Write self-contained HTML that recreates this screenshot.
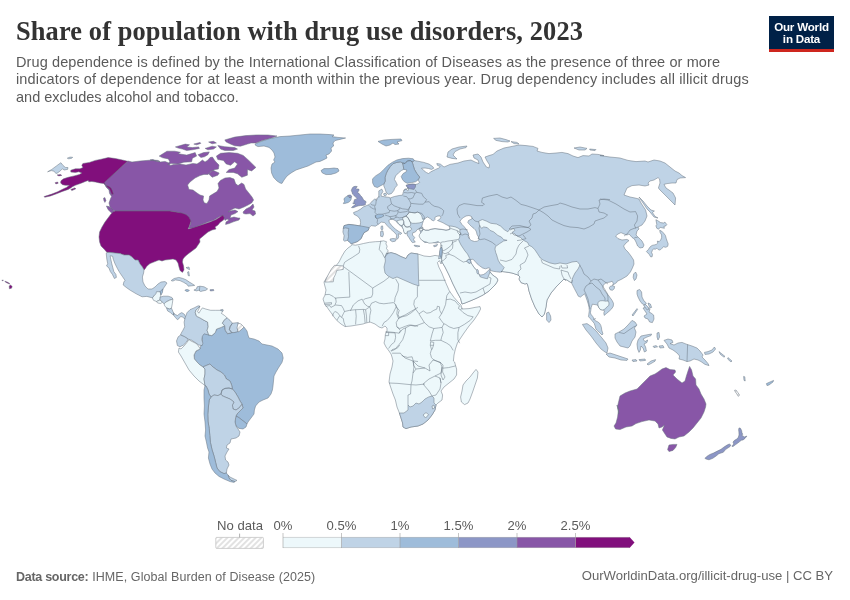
<!DOCTYPE html>
<html lang="en">
<head>
<meta charset="utf-8">
<title>Share of population with drug use disorders, 2023</title>
<style>
html,body{margin:0;padding:0;background:#fff;}
body{width:850px;height:600px;position:relative;overflow:hidden;font-family:"Liberation Sans",sans-serif;}
#title{position:absolute;left:16px;top:16.2px;margin:0;font-family:"Liberation Serif",serif;font-weight:bold;font-size:26.4px;line-height:30px;color:#333333;white-space:nowrap;letter-spacing:0.12px;}
#subtitle{position:absolute;left:16px;top:53.9px;margin:0;font-size:14.5px;line-height:17.4px;color:#5b5b5b;white-space:nowrap;}
#s1{letter-spacing:0.11px;}#s2{letter-spacing:0.15px;}#s3{letter-spacing:0.01px;}
#logo{position:absolute;left:769px;top:16px;width:65px;height:35.8px;background:linear-gradient(#002147 0,#002147 33.2px,#ce261e 33.2px,#ce261e 100%);color:#fff;font-weight:bold;font-size:11.6px;line-height:12px;text-align:center;letter-spacing:-0.2px;}
#logo span{display:block;}
#logo span.a{margin-top:4.6px;}
#footer-l{position:absolute;left:16px;top:568.5px;letter-spacing:0.075px;font-size:12.5px;line-height:16px;color:#666;white-space:nowrap;}
#footer-l b{color:#666;letter-spacing:-0.28px;margin-right:0.3px;}
#footer-r{position:absolute;right:17px;top:568.4px;font-size:13.1px;line-height:16px;color:#666;white-space:nowrap;text-align:right;}
#map{position:absolute;left:0;top:0;width:850px;height:600px;}
.lg{font-family:"Liberation Sans",sans-serif;font-size:13.1px;fill:#5b5b5b;}
</style>
</head>
<body>
<h1 id="title">Share of population with drug use disorders, 2023</h1>
<p id="subtitle"><span id="s1">Drug dependence is defined by the International Classification of Diseases as the presence of three or more</span><br><span id="s2">indicators of dependence for at least a month within the previous year. Drug dependency includes all illicit drugs</span><br><span id="s3">and excludes alcohol and tobacco.</span></p>
<div id="logo"><span class="a">Our World</span><span>in Data</span></div>
<svg id="map" width="850" height="600" viewBox="0 0 850 600">
<defs><pattern id="hatch" width="4" height="4" patternUnits="userSpaceOnUse" patternTransform="rotate(45)"><rect width="4" height="4" fill="#ffffff"/><line x1="1" y1="0" x2="1" y2="4" stroke="#e2e2e2" stroke-width="2"/></pattern></defs>
<g stroke="#66727f" stroke-width="0.5" stroke-linejoin="round">
<path fill="#8856a7" d="M128,161 132,162 140,161 152,160 158,160.4 160,161.6 150,160 153,159.6 156,161 160,162 165,161.4 169,163 170,165.6 174,164.4 180,164 186,165 193,163.4 197,164 200,162 202.4,160 205,162 208,160 210,157.6 212.4,157 214.4,160 216,162 219,165 218.4,169 215,169.6 211,171.4 208,174.4 204,174.4 200,175.6 195,178 190,182 187.6,185 189,189.4 193,190 197,193 200,195 203.6,196 203,200 204.4,203 207,203.4 209,200 209.6,196 213.6,193.6 217,191.6 219,188 218,183.6 220.4,180.4 225,178 230,177.6 234,179 235.6,183.6 238,185.6 241.6,183 244,184.4 245.6,189 248.4,192.4 252,197 253.6,200 251.6,203 248,205 244,207 239,209 235,208 231,210 228,212 230,211 235,210 238,211.6 235,213.6 231,215 230,218 234,217 238,218 240,218 239,220 234,221.6 229,223.6 225.6,224.4 226,222 229,220 227,219 225,220.4 224,218 223,215.6 219,217 214,220 208,222 203,224 198,226 193,228 189,228 191,222 189,218 185,215 180,213 176,212 170,211 150,211 115,211 112,210 110,207 109,203 110.4,199 111.6,196.4 109.6,193.6 109,190 106,187 104,182.4Z"/>
<path fill="#810f7c" d="M127.6,161.2 122.4,160 115.3,158.5 108.2,157.6 101.2,159.2 95.3,160.4 89.4,162.4 82.9,163.5 81.8,165.3 82.9,167.6 80,168.8 75.3,168.8 70.8,170.2 70.8,172.1 75.3,172.4 78.8,171.8 81.8,172.9 79.4,174.5 74.1,175.9 68.2,177.3 63.5,178.8 60.9,180.8 60.6,182.9 62.4,184.7 65.3,185.3 69.4,185.3 66.5,187.4 63.5,188.8 57.6,191.8 51.8,194.1 47.1,195.6 44.1,196.5 44.7,197.3 50.6,195.9 56.5,193.8 62.4,191.4 68.2,189.4 70.8,187.9 72.4,186.7 75.3,185.3 78.8,184.1 81.8,182.9 85.3,181.5 88.2,180.4 88.8,181.8 91.8,181.5 95.3,182 99.4,182.9 103.5,183.5 105.9,185.3 108.8,186.2 111.2,187.9 112.4,190.6 113.5,194.1 112,194.7 110.6,191.8 109.4,188.8 107.1,187.1 105.3,184.7 104.5,182.4ZM57.1,174.9 60.6,174.5 61.8,175.4 58.8,175.9ZM55.1,182.7 57.6,182 58.2,183.2 55.9,183.9ZM70.8,189.4 74.7,187.9 75.9,188.8 71.8,190.6Z"/>
<path fill="#8856a7" d="M106.4,206 109,206.6 112,209 114.4,212 113.6,214 111,212.4 108,209.6ZM159.2,156.1 166.9,151.2 174.7,151.2 180.4,152.3 178.2,153.7 186.7,155.1 195.2,152.6 196.6,156.1 192.4,158.2 191.6,161.8 183.9,162.2 178.2,163.9 171.2,163.6 167.6,164.6 169.8,161.8 168.4,158.9 162.7,157.8ZM175.4,146.9 185.3,144.1 189.5,144.8 186.7,146.9 192.4,147.6 198.7,146.9 199.4,148.4 192.4,149.8 186.7,150.5 182.5,149.1 178.2,148.1ZM193.8,144.1 200.1,142.4 200.8,143.4 196.6,144.8ZM205.1,148.4 212.1,146.2 216.4,146.9 213.5,149.1 207.9,149.8ZM208.6,142 213.5,141.3 216.4,143 212.1,143.8ZM198,154.7 203.6,152.6 209.3,151.9 207.9,154.7 204.4,156.8 200.8,157.5ZM217.8,145.5 224.8,146.7 234.7,147.6 237.5,149.1 233.3,150.5 224.8,150.5 220.6,149.1ZM224.8,139.9 234.7,137.1 246,135.6 257.3,134.9 268,135 277,136 270,138.6 262,140.6 256,143 251,143 247.4,144.1 240.4,146.2 234.7,145.8 230.5,144.1 226.2,142ZM216.4,156.1 220.6,153.3 229.1,152.6 237.5,153.3 243.2,155.4 248.8,160.4 255.9,167.4 251.6,170.9 247.4,169.5 247.4,175.2 241.8,177.3 237.5,173.8 233.3,172.4 226.2,172.4 229.1,169.5 234.7,168.1 237.5,163.9 234.7,161.8 230.5,165.3 226.2,163.9 223.4,160.4 217.8,159.6ZM208.6,173.8 212.8,170.2 219.2,173.1 217.8,175.2 212.1,177.3ZM243,212 246,209 250,207 253,204 254,207 252,210 255,211 255.6,214 253,216 250,213.6 246,214 243.6,213.6Z"/>
<path fill="#9ebcda" d="M255,144 262,141 270,138.6 280,136.6 290,136 300,135 310,134 320,134 330,134.6 334,135 332,136.6 338,137.4 345.6,138 340,139.4 335,140.6 333,143 333.6,146 331,148 331.6,151 329,154 326,155 327,158 324.4,159.4 320,161.4 316,162 312,164 308,166 302,168 296,170 291,173 287,176 284,180 282,183.4 280,183 277,181 273.6,177.4 271.6,173 271,168 272,164 275,162 273.6,160 275,157 274,153 272,150 269,147.4 264,146 258,146.6 255.6,145.4ZM321,170.6 324,168.6 329,168.6 334,168 338,168.6 339,171 336,173 331,174.4 326,174.6 322.4,173ZM378,141.4 384,140 392,139.4 401,139 402,140.6 397,142 399,144 395,144.6 393,143 390,145 386,146 382,144Z"/>
<path fill="#810f7c" d="M115,211 170,211 176,212 182,213 186,214.4 189,217 191,221 189,227 188,229 192,228 198,226 204,224 210,222 216,219.6 220,217 223,215 224.4,218 223.6,220 220,222.4 218,225 215,227 216,229 212,230 208,232 205,234.4 202,237 199.6,239 200,242 198,245 196,248 192,251 188,254 185,256.6 183,259 182.4,262 183.6,266 184,270 182.4,272.4 180,270.4 179,267 178,263 176,260 173,259 169,259.6 165,260 162,261 159,260 155,261.6 150,263.6 147,266 145,269 144,270 142.4,267 140,264 138,260 135,260 132,257 129,255 124,255 120,253.6 115,253 110,252.4 107,252.4 104,249 101,246 99.6,242 99,237 99.6,232 102,227 105,222 108,218 111,214 113,212Z"/>
<path fill="#bfd3e6" d="M107,252.4 110,252.4 115,253 120,253.6 124,255 129,255 132,257 135,260 138,260 140,264 142.4,267 144,270 143.6,273 142.4,277 143,282 145,286 148,289 152,289 155,287 158,284 161,282 165,281.6 167,283 165,286 163,289 161.6,292 159,292.4 157,295 154,295.6 153,298 146.8,296.4 142.1,296.8 136.2,293.8 130.3,290.3 126.2,287.4 123.2,285 123.8,282.1 125,280.3 122.6,276.8 119.7,272.6 117.4,268.5 115,263.8 113.2,259.1 112.6,256.2 110.1,255.8 110.9,259.7 111.8,263.8 112.9,267.9 113.8,271.5 115.9,274.4 116.4,277.4 114.4,278.5 112.4,274.4 110.3,271.5 108.9,267.9 106.5,265.9 107.7,263.8 106.8,259.1 106.2,253.2Z"/>
<path fill="#edf8fb" d="M152.4,297.9 153.9,295.9 155.9,293.8 156.5,291.7 160.2,291.7 160.9,295 160.2,297.1 160,299.9 159.4,300.3 156.5,301.5 153.5,300.3Z"/>
<path fill="#9ebcda" d="M160.2,291.7 161.8,289.7 162.9,289.1 162.4,292.6 160.9,295Z"/>
<path fill="#bfd3e6" d="M160.2,297.1 163.5,296.2 168.2,296.2 171.8,297.4 172.9,299.1 169.4,300.3 165.9,302.1 164.1,303.8 162.4,302.3 160,299.9Z"/>
<path fill="#edf8fb" d="M156.5,301.5 159.4,300.3 160,299.9 162.4,302.3 160.6,303.5 157.6,303ZM164.1,303.8 165.9,302.1 169.4,300.3 172.9,299.1 172.4,303.2 171.5,307.9 169.4,309.1 166.5,307.9 164.7,305.8Z"/>
<path fill="#bfd3e6" d="M166.5,307.9 169.4,309.1 171.5,308.2 172.9,311.5 173.9,313.6 173.9,315 172.4,314.4 170.4,312.6 167.6,310.9ZM173.5,312.9 175.3,314.5 177.6,315.6 179.4,313.8 181.8,312.6 184.4,314.3 185.6,316.9 184.9,319.2 182.9,317.1 180.6,316.5 179.1,318.5 177.4,319.7 175.3,317.4 173.6,315.2ZM171.2,280.6 174.1,278.5 178.8,277.4 182.4,278.3 185.9,279.7 189.4,282.1 192.9,284.2 194.7,285.4 191.8,285.8 188.2,286.2 187.1,284.4 183.5,282.3 180,280.6 175.3,279.9 172.9,281.1ZM193.9,290.1 196.5,288.9 197.1,286.8 200,286.2 204.1,286.8 207.6,288.9 205.9,290.3 202.9,290.9 200.6,291.5 198.8,290.3 196.5,290.9Z"/>
<path fill="#9ebcda" d="M184.9,290.1 187.1,289.4 189.4,290.3 188.2,291.5 185.9,291.2Z"/>
<path fill="#8c96c6" d="M210,289.7 213.5,289.5 213.9,290.6 210.4,291Z"/>
<path fill="#bfd3e6" d="M220.6,309.7 222.9,309.4 223.3,310.9 221.2,311.2Z"/>
<path fill="#9ebcda" d="M216.4,329.2 221.2,327.4 224.6,325.8 225.2,330.2 227.6,333.8 231.8,332.6 238.2,331.4 242,329 244,327 247,331 248,335 249,338 254,339 259,341 262,344 267,345 272,346 278,349 282,353 283.2,358 282,362.4 279,367 276,372 274,376 273.6,380 273,386 272.4,390 271,394 268,398 263,400 259,402 255.6,406 254.4,410 254,414 251,418 248,422 247,424 242,420 238,417 236,416 237,414 240,411 243,408 242,404 240,401 238,397 235,392 232.4,389 231.6,385 230,381 226.4,379 224.4,375 221,372 217,370 213,367 210,364 206,365.6 203,367 200,365 197,362 194.4,359 194,355 196,351 200,349 201,345 202.4,340 201.6,335.6 204,333 208.8,335 211.8,335.6 215.2,332.6Z"/>
<path fill="#bfd3e6" d="M185.3,317.1 187.1,312.6 190,309.7 194.1,307.9 198.2,305.8 200,306.2 197.6,308.5 195.9,310.3 195.3,312.6 196.5,316.2 200,317.9 204.1,320.3 207.6,322.1 208.2,326.8 207.1,330.3 208.8,335 204.1,333.8 202.4,336.2 201.8,339.7 202.9,343.2 202.1,345.6 198.8,345 195.3,342.6 191.8,340.3 188.2,339.1 184.7,336.8 180.6,335 181.2,333.2 182.9,330.3 184.7,326.8 184.1,322.1 184.9,319Z"/>
<path fill="#edf8fb" d="M200,306.2 198.8,309.1 197.6,311.5 198.8,313.2 200.6,310.3 202.4,307.9 205.9,309.1 210.6,310.3 215.3,310.3 220,310.3 222.9,311.5 221.2,313.2 224.7,315.6 227.1,317.9 224.1,320.3 222.4,323.2 224.7,325.6 221.2,327.4 216.5,329.1 215.3,332.6 211.8,335.6 208.8,335 207.1,330.3 208.2,326.8 207.6,322.1 204.1,320.3 200,317.9 196.5,316.2 195.3,312.6 195.9,310.3 197.6,308.5Z"/>
<path fill="#bfd3e6" d="M227.1,317.9 230,320.3 232.4,323.2 230,326.8 229.4,329.7 231.8,332.6 227.6,333.8 225.3,330.3 224.7,325.6 222.4,323.2 224.1,320.3ZM232.4,323.2 238.2,322.6 238.8,325.6 237.6,329.1 238.2,331.5 234.1,332.6 231.8,332.6 229.4,329.7 230,326.8Z"/>
<path fill="url(#hatch)" d="M238,323 241,324 244,327 242,329 238.4,332 237,328Z"/>
<path fill="#bfd3e6" d="M180.6,335 184.7,336.8 188.2,339.1 186.5,342.1 183.5,345 180,346.8 177.4,345.6 176.5,340.9 178.2,336.8Z"/>
<path fill="#edf8fb" d="M179,348 181,349 184,346 187,342.4 189,339.6 191,341 194,342.4 197,344 200,348.4 200,349 196,351 194,355 194.4,359 197,362 200,365 203,367 205,369 205,374 204,379 205,385.6 203,384 199,381 194,376 189,370 185,363 181,356 178.4,352Z"/>
<path fill="#bfd3e6" d="M203,367 206,365.6 210,364 213,367 217,370 221,372 224.4,375 226.4,379 230,381 231.6,385 232.4,389 229,388 225,388.4 222,390 221,394 218,395.6 214,395 211,397 209,394 208,390 206,386 205,385.6 204,379 205,374 205,369ZM222,390 225,388.4 229,388 232.4,389 235,392 238,397 240,401 242,404 239,408 236,410 233,409 232.4,405 234,402 230,399 225,397 222,395.6 221,394Z"/>
<path fill="#9ebcda" d="M236,416 238,417 242,420 247,424 246,427 243,429 239,428.4 236,426 235,422 235.6,418Z"/>
<path fill="#bfd3e6" d="M211,397 214,395 218,395.6 221,394 222,395.6 225,397 230,399 234,402 232.4,405 233,409 236,410 239,408 242,404.4 243,408 240,411 237,414 236,416 235.6,418 235,422 236,426 238,429 240,432 239,436 236,438 231,439 230,443 227,445 226.4,448 229,449 227,452 225,456 225.6,460 228,462 229,465 227,469 226.4,473 224,473.6 219.8,471.6 217,468 215.6,462.4 214.2,456.6 212,449.6 210.4,442.4 209.8,435.4 209.2,428.4 208,421.2 207.8,414.2 208.4,407 209.2,400ZM228,475 230,477 234,479 237,480.4 235,481.6 231,480.4 229,478Z"/>
<path fill="#9ebcda" d="M205,385.6 206,386 208,390 209,394 211,397 209.2,400 208.4,407 207.8,414.2 208,421.2 209.2,428.4 209.8,435.4 210.4,442.4 212,449.6 214.2,456.6 215.6,462.4 217,468 219.8,471.6 224,473.6 226.4,473 228,475 229,478 231,480.4 235,481.6 234,482.4 230,481.6 224,479 219,476.4 215,473 212,469 210,464 208.4,458 209,452 207.6,448 206.4,442 205,436 205.6,430 205,422 204,414 204.4,406 204,398 204,390Z"/>
<path fill="#edf8fb" d="M351.8,244.6 355.3,245.2 358.8,244.6 363.5,243.5 369.4,242.3 375.3,241.7 380,241.5 383.5,240.8 386.5,241.7 385.9,243.8 387.1,246.2 386.5,248.5 388.2,250.9 386,254 391,252.6 396,254 401,256.6 406,258.6 408,255 411,253 418,254 424,256 430,256.6 435,255.4 438.6,256 441.4,257 443,257.4 442.6,260.6 441,264 439.4,260.6 437.4,262.6 438.8,267 441.8,273 445,281 449.4,291 454,297.4 458,302 461,305 462,309 469,308.6 475,307.4 480,306.6 480.6,309 478,314 474,320 469,326 464,333 460,339 457.4,343 455.4,349 454,355 453.4,361 454.6,362 455.4,365 456.6,369 456.6,375 454,379 449,383 444,387 441,391 442.6,395 442,400 438,403 436,405 435,410 432,415 428,420 423,424 418,426 411,427 406,428.6 403,427 402.6,423 401,418 399.4,413 397,407 395.4,400 393,394 390.6,387 389,382 390,374 392,367 393,361 392,357 391,354 389,351 386,347 384,343 385,339 385.4,334 387,331 387,328 385,326 382,328 379,327 375,324 370,322 366,323 363,324 357,325 351,326 345,326.6 341,324 337,320.6 334,317 332,314 329,310 327,307 325,305 324,302 323,299 325,295 326,290 324.6,285 324,282 327,277 332,271 335,267 339,262 342,256 345,251 348,248 351.4,245.6Z"/>
<path fill="#bfd3e6" d="M386,254 391,252.6 396,254 401,256.6 406,258.6 408,255 411,253 418,254 418.6,281 419,286 413,284 397,277 393,278.6 388,276 385,273 384,267 385.4,261 385,257Z"/>
<path fill="url(#hatch)" d="M334.5,265.3 343.3,265.9 343.3,269.4 336.8,270.4 335.6,274.1 333.9,277.6 333.3,281.8 324.8,282.1 326.8,277.6 329.2,272.9 331.5,268.8Z"/>
<path fill="#bfd3e6" d="M399.4,413 401,418 402.6,423 403,427 406,428.6 411,427 418,426 423,424 428,420 432,415 435,410 436,405 434,403 434,398 432,396 428.6,397 425,399 422,402 419,404 416,403 413,406 410,407 408,405 408,410 404,413Z"/>
<path fill="#edf8fb" d="M423,415 426,412.6 428.6,414.6 425.6,418ZM432,406 434,405 434.6,408 432.6,409ZM476,369.4 478,372 477.4,378 475,385 472.6,392 470,399 468,403 464.6,404.6 461.4,402 460.6,397 462,391 463,385 466,381 470,377 473,373Z"/>
<path fill="#bfd3e6" d="M351.2,243.7 349.4,242.1 347.6,240.3 344.7,241.2 343.5,240.3 344.1,235.6 342.9,232.1 343.3,228.5 344.1,225.6 348.8,224.4 354.1,225 360,225.9 360.6,222.6 360,219.1 357.6,216.2 354.1,214.4 353.5,212.6 357.6,210.9 360.6,209.1 363.5,206.8 366.5,205.6 369.4,204.4 372.4,200.9 374.7,199.1 376.5,200.3 377.6,197.9 378.8,196.2 378.8,190.9 381.8,189.1 382.9,191.5 381.2,194.4 381.2,196.2 384.7,196.8 389.4,197.4 390.3,197.9 394.4,196.5 399.1,195.5 402.6,195.1 403.2,192.4 404.4,189.4 406.2,188.8 407.6,190.8 408.8,190 407.9,188 406.2,185.3 409.1,184.5 412.6,184.1 415.6,184.5 417.9,183.8 419.7,182.4 417.9,180 419.7,177.1 416.8,173.5 414.4,169.4 413.2,165.3 412.1,161.8 414.4,160.6 417.9,161.2 423.8,162.4 429.1,164.1 432.6,166.5 433.8,168.2 431.5,169.4 428.5,168.5 425,168 421.5,168.2 423.8,170.6 426.2,172.4 428.5,173.5 430.9,171.8 433.2,170.6 435.6,169.4 438.5,168.2 440.3,166.5 437.4,165.3 436.8,163.5 440.3,164.1 444,167 450,164.4 458,163 464,161 471,160 475,162 479,163.6 478,160 474,158 473,155 478,154 481,157 483,162 486.4,167 489,168 489.6,165 487,161 485,157 489,155.6 493,154.4 497,151 504,148 512,146.4 519,145 526,145.6 533,146.4 538,148.4 537,151 542,152.4 549,153.6 556,153 562,152.4 568,153.6 573,156 578,157.6 583,155.6 589,156 592,154 598,154.4 604,155.6 600,155.6 610,157 620,158 628,160.4 636,161.6 645,161 648,162 654,160 660,161 665,163 670,167 675,171 679,173 682,175.6 685.6,177.6 680,178 677,179.6 676,183 672,183 667,183.6 664,184.4 666,188 669,190 673,193 675.6,198 675,205 672,202 668,198 664,194 660,190 658.4,188 660,183 659.6,179 658,177.6 654,180 650,181 648,183 649,185 645,186 639,185 632,185.6 627,188 624,195 630,197 635,198 639,199 641,203 643.6,207 645.6,210 647,216 645,221 642,225 638,227 639,229 637,231 636,235 639,238 642,241 644,245 643,247.4 640,248 637.6,246 636,242 634.4,239 632,237.4 630,235 629,234 627,235 624,234 621,232.6 618,234 615.6,236 618,238.6 622,240 627,239.4 629,240.6 626,243 623.6,246 625,249 628,252 631,256 633.6,260 634,264 632.4,268 630.4,272 627,276 622,279 617,281.4 616.7,282.5 614.2,284.2 612.5,285.4 613.3,283.3 612.1,281.2 610,282.1 607.1,282.5 605,283.3 603.3,285.4 602.9,287.9 604.2,290 605.8,292.1 607.9,294.6 610,297.5 612.1,300.4 613.5,303.3 613.3,306.2 611.7,308.8 609.2,311.2 606.7,313.3 604.2,315.4 603.8,312.9 604.6,310.8 602.9,310 600.4,309.6 598.8,307.5 597.5,305 595,304.6 592.3,304.2 592.1,305 591.2,307.5 590.8,310.4 590.4,312.9 591.2,314.6 592.9,316.7 594.2,319.2 595.4,320.8 597.5,321.7 599.6,323.3 600.8,325.4 601.5,327.9 601.7,330 603,334 602,335 599,332 596.6,330 595.8,328.8 595,325.8 594.2,323.3 592.1,320.8 590,318.3 588.5,316.7 588.8,314.2 589.3,310.8 589,307.5 588.3,304.2 587.1,300.4 585.8,296.7 584.6,293.8 582.5,295.4 580.4,297.1 578.3,296.2 577.1,293.8 574.2,288.3 571.7,283.3 572,280 571.6,282.6 570,282 567,280 564,279 563,280 560,283 556,287 551,293 547,300 546,307 544.4,314 542,317 539,314 535,307 531.6,299 529,291 528,286 527,283.4 525,284 521,282.6 519,279 520,277 518,275 512,273 506,272 501,271.4 501.7,271.8 500,272.2 496.7,271.8 493.3,271.3 490.4,270.5 490.4,269.8 490,268.3 488.3,267.9 485.4,268.8 482.5,267.9 479.6,265.8 477.1,263.8 475,261.2 472.9,259.3 470.4,259.6 470.4,260 471,262.5 472.1,264.6 473.8,267.1 475.4,269.2 476.7,270 477.3,269.3 478.2,270.2 478.5,272.1 478.8,273.8 479.2,274.6 480.8,275 483.3,274.6 485.4,273.3 487.1,271.7 488.8,270 489.8,269.3 490,271.7 491.7,274.2 494.2,276.2 496.7,277.9 497.9,280 496.7,282.5 495,285 494,286 489,291 483,295 477,298 471,300.6 465,303 462,304 460.6,298.6 457,292 453,284 449,275 445,267 442,262 441.6,258 438.5,258.7 439.6,253.7 440.6,249.5 441.6,246 442.4,242.4 442,241 439.9,241.7 436.4,243.1 432.8,242.4 430,241.7 434.1,242.6 429.4,242.1 424.7,242.6 422.4,240.3 421.2,237.9 420,235.6 420.6,232.6 420,230.3 422.4,230.3 424.1,229.7 421.2,228.8 418.2,229.1 417.1,229.7 415.3,232.1 412.9,232.6 412.4,235 414.7,237.4 413.5,239.7 415.3,242.1 412.4,242.6 410.6,240.3 408.8,237.4 407.1,235 407.1,232.1 405.3,233.8 404.1,232.1 403.5,229.1 401.8,226.8 398.8,224.4 397.1,222.6 395.9,220.9 393.5,219.7 391.8,219.1 391.2,219.1 388.8,220.3 389.4,222.6 391.8,225.6 395.3,229.1 398.8,231.5 401.8,233.2 400.6,234.4 398.2,233.8 398.8,236.8 397.6,239.1 396.2,237.9 396.7,235 394.1,232.1 390.6,229.1 387.1,225.6 384.7,222.6 381.2,222.1 378.2,224.4 375.3,226.2 371.2,225.6 369.2,227.6 368.2,230.3 364.1,232.6 362.4,235.6 361.2,238.5 357.6,241.5 354.7,242.6ZM385.2,181.2 385,177.6 386.2,173.5 387.9,170 390.3,166.5 393.2,163.5 396.8,162.4 400.3,161.8 402.6,162.9 403.2,165.3 403.8,169.4 401.5,170.4 398.5,172.9 395.6,175.9 394.4,179.4 396.2,182.4 397.4,185.3 395,187.6 393.8,190.6 391.5,193.5 388.5,194.4 386.2,192.4 385,188.8 383.8,185.9 383.8,184.1Z"/>
<path fill="#9ebcda" d="M372.6,178.8 375.6,175.9 380.3,172.9 383.8,169.4 387.9,165.3 392.1,162.4 396.8,160 402.6,158.6 408.5,158.2 413.2,158.8 414.4,160.6 412.1,161.8 410.3,160.6 407.4,160.9 405,163.5 402.6,162.9 400.3,161.8 396.8,162.4 393.2,163.5 390.3,166.5 387.9,170 386.2,173.5 385,177.6 385.2,181.2 383.8,184.1 380.3,185.9 377.4,187.6 374.4,186.5 372.6,182.9ZM405,163.5 407.4,160.9 410.3,160.6 412.1,161.8 413.2,165.3 414.4,169.4 416.8,173.5 419.7,177.1 417.9,180 415.6,181.8 411.5,182.6 407.4,183.3 404.4,181.8 402.4,179.4 401.2,176.5 403.2,173.5 406.2,171.8 406.8,170 403.8,169.4 403.2,165.3 402.6,162.9Z"/>
<path fill="#8c96c6" d="M406.2,185.3 409.1,184.5 412.6,184.1 415.6,184.5 415.4,187.1 413.8,189.4 410.3,188.8 407.9,188 406.8,186.5Z"/>
<path fill="#bfd3e6" d="M383.8,193.5 385.9,193.2 386.8,194.7 385.2,195.9 383.8,195.1ZM447,157 448,152 452,149 459,147 467,146 466,147.6 460,149 455,151.6 453,155 455.6,157.6 457,159 452,158.4ZM493.6,138.4 500,138 506,139.6 510,141 508,142 502,141.6 496,140.4ZM511,141.6 517,142.4 519,144 514,143.6ZM574,148 580,147 587,148.4 585,150 579,150ZM589.6,149 596,149.6 595,150.6 590,150ZM47.6,171.8 51.8,169.4 56.5,165.9 60.9,162.7 62.9,165.3 65.3,167.4 68,167.6 67.6,169.4 64.1,170 62.4,168.8 60.6,170.6 57.6,172.9 55.9,173.5 54.1,171.2 51.2,170.6ZM67.3,158.2 70,157.1 72.7,157.3 71.8,158.2 68.8,158.8Z"/>
<path fill="#8c96c6" d="M353.4,186.8 355.1,186.3 357.2,186.5 356.7,187.5 355.8,188.2 356.5,188.9 358.8,189.1 359.1,190.1 358.4,191.2 357.6,192.4 358.6,193.1 359.5,194.1 360.5,195.5 361.6,196.6 362.6,198.1 363.3,199.5 364.5,200.6 365.9,201.4 366.1,202.3 365.4,203.2 365.6,204.4 364.5,205.1 362.6,205.4 360.7,205.5 358.8,205.8 356.9,206.3 355.1,207 353.2,207.7 351.5,207.6 352.5,206.5 354.1,205.6 355.5,204.6 355.1,203.9 353.4,203.7 352.7,203.2 354.1,202.5 353.9,201.4 354.6,199.5 356.2,199.2 356.9,198.3 356.2,197.4 355.1,196.6 354.1,195.7 353.4,194.8 352.5,194.1 352.3,192.9 351.8,191.7 351.3,190.5 351.8,189.1 352.5,187.7ZM348,195.5 349.2,195 350.6,195.1 351.8,196.2 351.3,197.4 350.1,197.7 348.9,197.4 348.2,196.6Z"/>
<path fill="#9ebcda" d="M344.2,198.3 345.2,197.4 346.6,196.4 348,195.5 348.2,196.6 348.9,197.4 350.1,197.7 351.3,197.4 351.2,199 350.6,200.4 349.6,201.6 348.2,202.5 346.6,203 344.7,203.5 343.3,203.6 344,202.3 344.7,201.1 344,199.9ZM344.1,225.6 348.8,224.4 354.1,225 360,225.9 365.3,226.8 369.2,227.6 368.2,230.3 364.1,232.6 362.4,235.6 361.2,238.5 357.6,241.5 354.7,242.6 351.2,243.7 349.4,242.1 347.6,240.3 348.5,236.8 348.2,232.6 348.8,228.5 345.3,227.9 343.3,228.5ZM375.3,215.4 378.2,214.2 382.4,214.2 384.1,215.8 381.2,217.4 377.6,218.5 375.5,217.4Z"/>
<path fill="#bfd3e6" d="M390,239.1 392.9,238.5 396.5,238.9 395.3,241.2 392.4,241.7 390.4,240.5ZM380.6,231.5 382.9,230.9 383.5,234.4 382.6,236.8 380.6,236.2ZM381.2,226.2 382.6,225.9 382.9,229.1 381.8,230.3 380.9,228.5ZM414.1,245.2 417.6,245.6 420,246.2 417.6,246.8 414.7,246.2ZM433.5,245.6 435.9,245 437.6,244.4 436.5,246.2 434.1,246.8Z"/>
<path fill="#edf8fb" d="M405.8,216.2 407.9,214.2 409.2,212.1 411.7,212.5 415,212.9 417.5,212.1 419.6,212.9 421.7,215.8 422.5,218.8 423.8,220.4 422.1,222.1 419.2,222.9 415.8,223.3 412.5,223.3 410.4,222.5 409.2,220 407.9,217.5ZM396.7,220.8 400,220 402.9,219.6 403.8,221.7 403.3,224.2 402.1,225.8 400,225 398.3,223.3ZM402.5,217.5 405.8,216.2 407.9,217.5 409.2,220 410.4,222.5 410.8,225 409.2,226.7 407.1,227.1 405.4,226.7 404.2,224.6 403.8,221.7 402.9,219.6ZM402.1,225.8 403.3,224.2 404.2,224.6 405.4,226.7 407.1,227.1 409.2,226.7 410.8,227.5 411.7,229.2 410,230.8 407.5,231.2 406.7,233.3 405,233.8 403.8,231.7 403.3,229.2 402.5,227.5ZM423,229.2 425.5,230.2 428.5,230.2 431.5,229.2 435,228.7 439,229.2 443,229.7 446,230.2 449,229.7 450,228 449,226 452,226.2 455,226.8 458,228 460,229.5 459.8,231.5 461,234 459.5,234.5 459.8,237 458.5,239.5 459.5,242 461,245 463,248 465,251 467.5,254 469,257 470,259 470.4,259.8 468.3,259.3 466.7,261.2 467.9,262.5 469.6,263.3 471,262.5 472.1,264.6 473.8,267.1 475.4,269.2 476.7,270 476.8,272.5 477.7,274 478.8,273.8 479.2,274.6 480,276.7 482.1,277.5 485,278.3 487.5,278.8 488.2,276.7 489.2,274.2 490,271.7 491.7,274.2 494.2,276.2 496.7,277.9 497.9,280 496.7,282.5 495,285 494,286 489,291 483,295 477,298 471,300.6 465,303 462,304 460.6,298.6 457,292 453,284 449,275 445,267 442,262 441.6,258 442.2,254 442.4,250 441.8,247.2 440.8,247.8 440.8,245.5 440.8,243.2 439.5,242.5 438,241.5 435,242.5 432,243 429,243.2 426.5,242 424,241.5 421.5,240 420,238 419,236 419.5,234.5 421.5,232 422.5,230.5ZM419,229 421.5,228.5 423,229.2 422.5,230.5 420.5,230.8 419,230Z"/>
<path fill="#9ebcda" d="M440.2,248.2 441,247.8 441.7,247.4 442.1,250 441.9,254 441.4,257.8 440.6,257.2 439.8,254.5 439.6,252Z"/>
<path fill="#bfd3e6" d="M466.7,261.2 468.3,259.3 470.4,259.8 471,262.5 469.6,263.3 467.9,262.5Z"/>
<path fill="#ffffff" d="M422.5,223.5 423.5,220.5 425.5,218 427.5,217 429.5,218 431,219.5 433.5,221 435,219.5 434.8,217.5 437,216.2 440,215.8 440.8,217.5 439.5,219.5 437.5,220.5 440,221.5 443,222.8 446,224.5 449,226 450,228 449,229.5 446,230 443,229.5 439,229 435,228.5 431.5,229 428.5,230 425.5,230 423,229 421.8,226.5ZM460,221.5 461,219.5 463.5,217.5 466,216 469,215.5 471.5,216.5 472.2,218.5 470.5,219.5 468.5,220.5 467.8,222.5 469.5,224.5 471.5,226.5 474,228.5 475.5,230 476.5,232 477,234.5 478.5,237 479,239.5 477.5,241.2 474.5,241.5 471.5,240.5 469.5,239 468.2,236.5 468.8,234 467.5,231.5 466,229 464,226.5 462,224.5Z"/>
<path fill="#edf8fb" d="M478.8,221.2 482.3,219.5 486.6,221.2 490.8,223.3 496.5,224 500.7,226.2 504.3,229.7 507.8,231.8 509.9,229 513.5,228.3 514.9,230.4 512,232.5 514.9,233.9 517,236.1 520.5,237.5 523.4,240.3 527.6,242.4 529,245.3 531.8,246.7 534.7,249.5 537.5,253.7 540.3,258 543.2,260.1 549.8,262.9 555,264 560,263 566,264 572,262 577,261.4 580,265 578,269 575,273 573,277 572,280 571.6,282.6 570,282 567,280 564,279 563,280 560,283 556,287 551,293 547,300 546,307 544.4,314 542,317 539,314 535,307 531.6,299 529,291 528,286 527,283.4 525,284 521,282.6 519,279 520,277 518,275 512,273 506,272 501,271.4 501.7,271.8 504.2,267.5 502.1,265.4 500,263.3 498.3,260.4 497.5,257.9 496.7,255 495.7,252.5 495,249.2 495.4,246.7 499.3,243.8 503.6,241 507.1,240.3 503.6,239.6 501.4,237.1 497.9,235.4 493.6,231.8 490.1,230.4 487.3,227.6 483.7,226.9 481.6,228.3 479.5,225.5ZM597.9,302.5 600,300.8 602.9,300.7 605.8,301.2 607.9,300.8 609,302.9 608.8,305.4 606.7,307.1 605.4,308.8 602.9,310 600.4,309.6 598.8,307.5 597.9,305Z"/>
<path fill="#bfd3e6" d="M546.6,313 548.6,312 550.6,316 551,320 549,322.6 546.6,320ZM609.2,287.9 610.4,286.2 612.5,285.7 614.6,286.5 614.2,288.8 612.5,290.2 610.4,290ZM633.6,274 635.6,272 637,275 636,279 634.4,280.6 633.2,277.4ZM659.7,230.2 661.6,231.1 663.5,233 665.4,235.4 666.3,238.7 667.3,241.6 668.2,243.9 667.7,246.3 665.8,247.3 663.5,246.8 662,248.2 660.1,250.1 658.2,249.6 656.8,248.2 655.4,249.2 653.5,248.9 652.5,250.1 651.6,252.5 652.5,254.4 652.1,256.8 650.6,256.8 649.2,254.4 647.8,253 646.4,251.5 648.3,249.6 650.2,246.8 652.1,245.4 654.4,244.9 656.3,244.4 657.8,243 657.3,241.1 659.2,241.6 660.6,240.1 661.6,237.8 661.6,234.9 660.1,232.5ZM655.9,219.7 657.8,220.7 660.6,222.6 663.5,223 664.9,222.1 666.8,224.5 665.8,225.9 663.9,226.4 664.4,228.3 662,227.8 660.1,227.3 658.7,229.2 656.8,228.3 655.9,225.9 656.8,224.5ZM639,197 643,201 647,206 651,210 654.4,211 652.4,212.4 655,216.4 658,218 654,217 650,212 647,209 644.4,205 641,200ZM637,290.6 639.6,289.4 641.6,292 642,297 644,301 646.4,303 645,305 642.4,304 640,301 638,297 637,294ZM643,308 647,307 650,309 649,312 651,313 653.6,315 654,319 652.4,322.6 649.6,322 648,319 645,318 644,316 647,314 645,311ZM632,315 637,308.6 637.6,309.4 633,316ZM582.4,324.4 587,323.6 592,327 597,332 602,338 606,343 608,348 607,353 605,352 601,349 596,343 591,336 586,330ZM606,354 610,353 616,355 622,357 628,359 627,360.4 621,360 615,358 609,357ZM632,360 636,359.6 637,361 633,361.6ZM639,359.6 645,359 645.6,360.4 640,361ZM647,364 651,361 655.6,359.6 655,361.2 651,363.6 648,365ZM615,334 619,332 624,329 628,325 632,320.4 635,322 637,325 634.4,328 636,332 635,337 632,341 630,346 628,348 624,347 620,346 617,342 615,338ZM638,340 641,336 646,335 651.6,334 651,335.6 647,337 643,339 645,341.6 647.6,340 647,342.4 644,344 645.6,347 646.4,351 644.4,352 643,348 641,346 640.4,350 639,352.4 637.6,349 637,344ZM657,333 659,332.4 659.6,337 658,340 657,337ZM653,346.4 656,345.6 657.6,346.8 654,347.6ZM659,346 663,345.6 664,347.6 660,348ZM664,340.4 668,339 672,340 673,342.4 670,343.6 674,345 678,343 682,342.4 687,344.4 692,346 697,348 700,351 703,355 702,357 705,360 708,363.6 709,365.6 705,364.4 701,361.6 698,360 694,359 690,361 687,361.6 683,360 679,359 679.6,356 677,353 673,350 669,348 667,344ZM704.4,352.4 708,351.6 712,350 714.4,347 715.6,349 713,352 709,354 705,354.4ZM719,351.6 722,354 725,356.4 724,357.2 720.4,354.4ZM728,357.6 732,361 731,362 727.6,359ZM743.6,376.4 744.8,376.8 745.2,381 744,380.4Z"/>
<path fill="#9ebcda" d="M766.4,383.6 769,382.4 773.6,380.4 773,382 769,385 767,385.6Z"/>
<path fill="url(#hatch)" d="M734.4,390.4 736,390 739.6,395 738.4,396.4Z"/>
<path fill="#8856a7" d="M619,414 617.6,406 620,396 625,393 630,391 637,389 642,384 646,380 650,376 655,374 658,372 662,369 666,367.6 670,369.6 675,370 675.6,372 673,375 677,379 682,383 685,381 686.4,376 688,371 689.6,366.4 691.6,370 693,376 695.6,379 696,385 699,389 701,394 704,399 706,404 705.6,407 704,412 701,418 697,423 693,428 689,432 684,436 679,437 675,439 671,438.4 667,437 665,434 662.4,430 664.4,425 662,427 659,428 658,424 655,421 649,420 642,421.6 636,423.6 632,426 626,427 620,429.6 615.6,429 614,426 616,423 617.6,417 618.4,410 617,405ZM669,445 673,444.4 677,444.4 675.6,447.6 673,450.4 669,451.6 667.6,449.6Z"/>
<path fill="#8c96c6" d="M739,427.9 740.5,428.3 741.6,430.5 742,432.8 742.8,434.3 741.6,435 744.3,436.9 746.9,436.1 745,438.4 743.1,439.9 741.3,440.3 739.4,441.8 737.5,443.3 735.3,444.8 733.4,446.3 732.1,446.6 732.3,445.5 733.8,444 733,442.1 734.5,440.3 736.8,439.1 738.3,437.3 739,435 738.9,432 738.6,429.8ZM729.3,444 730.8,445.1 730,446.6 727.8,448.1 725.5,449.6 723.3,452.3 721,453 718.8,453.8 716.1,456 712.8,458.3 709,459.8 706,459 704.9,458.3 706.8,456.4 709.8,454.5 713.5,453 717.3,451.1 721,449.3 724,447 727,445.1Z"/>
<path fill="#810f7c" d="M1.8,280.4 3.3,280 2.9,280.9ZM4.9,281.2 7.1,282 9.4,283.2 9.6,284.1 7.1,282.9 5.3,282ZM9.2,285.9 10.6,285.1 12.2,286.5 11.5,288.2 9.4,288.8Z"/>
<path fill="#bfd3e6" d="M643.6,305.4 645.6,304.6 647.6,306.6 649,309 647.2,310 645.6,308ZM648,303 650.4,304 651.6,307.4 650,308 648.8,305.4Z"/>
<path fill="#8856a7" d="M103.5,198.2 104.9,197.6 105.9,200.6 104.9,202.4 103.9,200.6Z"/>
<path fill="#bfd3e6" d="M186,267.6 189,267 189.6,269.6 188,269ZM187.6,272 188.8,271.6 189.4,276 188.2,275.6Z"/>
</g>
<path fill="none" stroke="#66727f" stroke-width="0.5" stroke-linejoin="round" d="M199.8,286.4 199.4,290.9M376.2,198.3 376.2,200.8 375.8,204.2 374.6,206.7 375.4,209.2 375,212.5 376.7,214.2M370.8,204.3 372.9,205.2 374.8,205.2M368.8,205.4 370,206.7 371.7,207.9 373.3,208.8 375.4,209.2M378.3,197.1 379.8,196.8M390,197.9 390.8,200.8 391.5,203.8M391.5,203.8 390,205 387.5,206.7 387.9,208.8 389.6,210.4M389.6,210.4 389.2,212.5 385.8,213.3 382.5,214.2M391.5,203.8 394.2,205.8 397.5,207.1 400,207.9 402.5,208.8 405.8,209.2 408.8,209.6M389.6,210.4 391.7,210.8 394.2,211.2 397.1,210.8 399.2,209.6 400,207.9M397.1,210.8 398.3,211.7 400,212.5 402.5,212.1 405.8,211.7 408.3,210.8 408.8,209.6M398.3,211.7 397.5,213.8 396.2,215.4 393.3,216.2 390,216.7 387.5,215.8 385,215M390,216.7 390.8,218.8 393.3,218.8 395.8,217.5 396.2,215.4M395.8,217.5 397.1,217.1 399.2,217.9 402.5,217.5 405.8,216.2 407.9,214.2 409.2,212.1 408.3,210.8M390.8,218.8 391.5,220M408.8,209.6 409.2,207.9 410.7,206.2M409.2,212.1 411.7,212.5 415,212.9 417.5,212.1 419.6,212.9 421.7,213.3 424.2,216.7 424.6,218.8 422.5,218.8M403.3,190.8 405.4,189.6 408.8,187.9M415,189.6 416.8,192.3 415,193.3 411.7,192.5 407.5,192.9 403.8,192.5M415,193.3 412.9,197.9 410.4,198.8 408.3,198.8 406.7,196.7 403.3,196M416.8,192.3 421.7,193.3 423.3,196.7 426.7,199.6 425,202.1 423.3,204.2 419.2,204.2 415,203.8 410.8,203.3M408.3,198.8 409.6,200.8 410.8,203.3 410.4,205.8 408.8,208.8M425,202.1 429.2,201.7 431.2,204.2 434.2,206.2 438.3,207.1 441.7,208.8 443.8,210.8 442.9,214.2 441.7,216.2M460,218 457.6,214 457,209 459,205.6 464,203.6 470,204.4 477,205.6 483,205.6 484.4,204 481.6,202.4 482.4,198 489,196 497,194.4 502,197 507,198.4 511,197 516,200.4 521,204.4 526,205.6 532,207.6 539,210M539,210 536,213 533,214 532,218 529,221 531,225 528,227.6 520,225.6 512,226 509,229M539,210 544,207 551,205.6 558,204.4 560,203 565,204.4 572,207 580,209 588,209 595,207.6 598,208.4 599,212 604,213 607.6,215 604,218 599,219.6 595,221 594,224 589,227 584,229 578,227.6 570,227 564,225.6 558,223 552,220 548,216 544,213 539,210M598,208.4 600,204 599,200 604,199 610,199.6M471.6,217.6 475,221 479,222M478,239 480,234 479,228 480,225M600,199 608,200 616,204 624,209 630,212 635.6,211.6 637.6,216 637,221 634.4,225 635.6,228 638,227M624,236 627,234 630,230 634,228.4 636,228M518.4,275.4 518,272 521,269 520,265 525,262 528,255 526.4,250.6 524.4,248 529,246M500,260 506,261.4 512,259.4 516,254 517,249 519,245 523,241M541,259.4 542.4,263 548,265.4 554,268 559.6,269 560,266M561,265 562,268 567.6,268 567,265M561,270 564,271 568,272 569,275 571,279M561,270 562,275 564,279 566,281M579.6,265 582,269 584,274 588,277 591,281 594,279 598,280 601,279 605,282 608,284M598,280 601,284 604,288 607,293 608,297 608,301.4M589,284 592,283 596,287 600,290 602,294 605,298 605,300.6M591,281 589,284 586,286 584,290 586,294 588,299 589,304 590,309M510,230 515,228 521,227 528,227.4 531,229.4 527,232 523,234 519,236 514,235 512,233 510,234M523,235 526,238.6 521,240 517,240.6M593,319.4 596,318.6M375.3,215.4 375.5,217.4 377.6,219.7 377.1,222.6 378.2,224.4M466.7,261.2 463.3,262.1 459.2,259.6 454.2,256.2 449.2,254.2M449.2,254.2 448.3,252.5 452.5,248.3 452.9,245 452.5,242.5 456.7,240.8M449.2,254.2 445.8,255.4 446.2,257.9 443.3,260.4 440.8,261.7M448.3,252.5 445,253.8 442.5,252.5M460,293 465,292 471,293 476,292 483,288 490,284 491,278 488.6,277M483,288 485,294M358.6,245.9 359.8,249.4 359.2,252.9 355.6,255.3 352.1,257.6 348,260 344.5,262.4 343.3,265.9M343.3,266.5 372.1,287.6 372.7,288M348.8,271.8 349.8,297.1 336.8,297.9 335.6,298.8 333.3,296.5 329.2,294.4 325.1,294.7M380.9,240.6 379.8,245.9 379.2,249.4 382.1,252.9 384.5,257.6 386.8,254.7 388.6,251.8M372.7,288 383.9,281.2 389.2,277.1M372.7,288 372.7,294.1 371.5,297.1 365.1,298.8 363.3,300M395.6,278.8 398.6,284.1 398,290.6 395.1,297.6 394.5,302.4M335.6,297.4 336.2,302.1 335.1,304.4 335.6,305 341.5,305.6 343.3,308.5 344.5,311.5 343.3,313.8 341.5,317.4 343.3,318.5 343.9,322.1 345.6,326.5M324.5,303.2 331.5,302.6 331.5,304.2 324.8,304.4M325.6,306.2 329.8,305.6 330.9,307.4 335.6,305M332.7,316.2 333.3,313.2 335.1,311.5 337.4,312.6 339.8,315.6 336.8,320.3M339.8,315.6 341.5,317.4M344.5,311.5 349.8,310.3 355.6,309.7 356.2,316.2 355.6,324.4M350.4,310.9 353.3,305 358,300.9 362.1,299.1 364.5,303.8 367.4,306.2 369.8,306.8 365.6,309.7 363.3,309.4 355.6,309.7M363.3,309.4 364.5,315.6 365.1,323M365.6,309.7 366.5,316.2 366.8,322.6M369.8,306.8 370.9,310.3 369.8,315.6 369.5,322.3M369.8,306.8 371.5,303.2 375.6,301.5 379.2,303.2 383.9,303.8 388.6,303.2 393.3,302.6 395.1,303.8 396.2,306.8 393.3,312.6 390.4,316.8 387.4,320.3 383.9,322.6 382.1,326.2M396.2,306.8 399.2,310.3 398,314.4 399.2,317.4 396.2,322.6 396.8,326.8 400.4,330.3 399.2,333.2 395.6,332.6 390.9,332.1 385.6,331.7M385.6,332.4 388.6,332.4 388.6,335.6 385.3,335.6M388.6,332.6 395.1,332.9 395.6,337.4 394.5,342.1 391.5,344.4 388.6,348.5M399.2,333.2 402.7,329.1 405.6,327.9 405.1,332.6 402.7,339.7 399.2,344.4 395.6,348.5 392.1,349.7 390.9,350.9M392.1,353.2 400.4,353.2 402.7,356.2 407.4,357.4 412.1,356.8 413.3,360.9 418,361.5M399.2,317.4 405.1,315 410.9,311.5 418,307.4M405.6,327.9 410.9,325 418,326.2M419.1,280.3 445.6,280.3M417.4,286.2 417.4,296.8 414.4,300.3 413.8,304.4 415.6,309.1M415.6,309.1 411.5,312.6 406.8,315.6 402.1,316.8 398.5,318.5 396.8,313.8 397.4,309.1 395.6,304.4M415.6,309.1 419.1,313.8 423.2,310.9 426.8,313.2 430.3,312.6 433.8,310.3 436.8,309.1 437.4,306.2 439.5,306.8 439.7,310.3 441.5,313.8M441.5,313.8 443.8,309.1 445.6,304.4 446.2,299.7 446.8,295.6 449.7,291.5M446.2,299.7 450.3,299.1 455,300.9 458.5,305 460.3,306.5M459.1,306.2 458.5,308.5 460.3,309.7 462.6,308.2M460.3,309.7 463.2,312.6 467.9,315.6 473.2,316.8 470.3,320.3 464.4,324.4 459.1,327.4 453.8,328.5 449.1,326.8 445.6,324.4 443.8,323.8 441.5,320.9 439.1,317.4 441.5,313.8M419.1,314.1 424.4,322.6 429.1,326.8 433.8,328.5 438.5,327.9 442.1,327.4 443.8,323.8M459.1,327.4 457.9,332.6 457.9,339.7 459.7,343.2M442.1,327.4 443.2,332.6 441.5,337.4 440.9,340.3 446.8,343.2 450.3,345.6M433.8,328.5 432.1,333.8 430.9,338.5 430.3,340.9 435.6,340.3 440.9,340.3M396.8,326.8 399.7,328.5 405.6,326.2 409.1,325 415,326.2 419.7,324.4 424.4,322.6M389,383 398,383.4 410,384.6 416,385 425,384M413,361 414,367 413,373 412,381 411,384.6M411,385 410.6,394 408,395 408,405M423,384 429,391 432,396M423,384 429,379 435,376 440,378 441,383 440,389 436,395 432,396M413,373 416,369 425,368 430,371 429,365 433,360 440,362 442,367 441,373 435,376M440,362 443,365 442.6,372 445,377 443,380 441,375 442,367M441,383 440,378M402,355 405,358 413,361 418,366 425,368M440.8,243.2 441.5,242 444.5,241.8 448,241 452,240.5 455,240 458,239.5M449,229.7 451,228.5 454,229.5 457,230.5 459.5,232 461,234 459.5,234.5 458,233 457,230.5M459.8,234.5 462.5,235 465,234 467.5,234.5 469,236.5 469.5,238.8M460,229.5 463,229 466,229.5 467.8,230M452,240.5 452.8,242 451.5,245 448,248 445,250 442.5,251M440.8,245.5 442,245 441.8,247M419,229 420,227.5 422,227 423.5,228M687.6,344.4 687,361.6M619,332.4 624,333.6 629,330 633.6,327 636.4,325.6M634.3,237.9 635.9,237.3 637.5,237.5M450.3,345.6 453.2,350.4M430.6,341.8 430.3,345.3 431.5,349.4 430.3,353.5 431.5,357.6 433.2,359.4 436.8,361.2 440.3,362.9M430.6,341.8 433.8,342.4 433.5,345.3 432.1,349.4 431.5,349.4M430.3,345.3 433.5,345.3M442.6,368.2 448.5,367.6 455.6,365.9M399.7,344.9 397.9,347.6 393.8,350 390.9,351.2M413.2,360.8 413.8,365.9 415.9,368.9M478.1,238.5 480.2,239.6 484.5,238.9 488,240.3 492.2,242.4 495.8,245.3"/>
<g id="legend">
<rect x="215.8" y="537.4" width="47.6" height="11" rx="0.8" fill="url(#hatch)" stroke="#c4c4c4" stroke-width="0.8"/>
<line x1="239.6" y1="533.6" x2="239.6" y2="537.4" stroke="#8f8f8f" stroke-width="0.7"/>
<rect x="283" y="537" width="58.5" height="11" fill="#edf8fb"/>
<rect x="341.5" y="537" width="58.5" height="11" fill="#bfd3e6"/>
<rect x="400" y="537" width="58.5" height="11" fill="#9ebcda"/>
<rect x="458.5" y="537" width="58.5" height="11" fill="#8c96c6"/>
<rect x="517" y="537" width="58.5" height="11" fill="#8856a7"/>
<path d="M575.5,537H629.5L634.5,542.5L629.5,548H575.5Z" fill="#810f7c"/>
<path d="M283,537.4H629.5M283,547.6H629.5" fill="none" stroke="#b9b9b9" stroke-width="0.8" opacity="0.7"/>
<line x1="283" y1="533" x2="283" y2="548" stroke="#9a9a9a" stroke-width="0.7" opacity="0.8"/>
<line x1="341.5" y1="533" x2="341.5" y2="548" stroke="#9a9a9a" stroke-width="0.7" opacity="0.8"/>
<line x1="400" y1="533" x2="400" y2="548" stroke="#9a9a9a" stroke-width="0.7" opacity="0.8"/>
<line x1="458.5" y1="533" x2="458.5" y2="548" stroke="#9a9a9a" stroke-width="0.7" opacity="0.8"/>
<line x1="517" y1="533" x2="517" y2="548" stroke="#9a9a9a" stroke-width="0.7" opacity="0.8"/>
<line x1="575.5" y1="533" x2="575.5" y2="548" stroke="#9a9a9a" stroke-width="0.7" opacity="0.8"/>
<text class="lg" x="240" y="530.4" text-anchor="middle">No data</text>
<text class="lg" x="283" y="530.4" text-anchor="middle">0%</text>
<text class="lg" x="341.5" y="530.4" text-anchor="middle">0.5%</text>
<text class="lg" x="400" y="530.4" text-anchor="middle">1%</text>
<text class="lg" x="458.5" y="530.4" text-anchor="middle">1.5%</text>
<text class="lg" x="517" y="530.4" text-anchor="middle">2%</text>
<text class="lg" x="575.5" y="530.4" text-anchor="middle">2.5%</text>
</g>
</svg>
<div id="footer-l"><b>Data source:</b> IHME, Global Burden of Disease (2025)</div>
<div id="footer-r">OurWorldinData.org/illicit-drug-use | CC BY</div>
</body>
</html>
